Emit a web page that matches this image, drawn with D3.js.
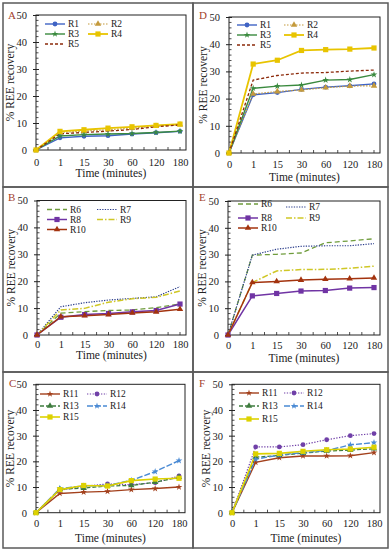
<!DOCTYPE html>
<html>
<head>
<meta charset="utf-8">
<script src="https://cdn.jsdelivr.net/npm/d3@7"></script>
<style>
  body { margin: 0; background: #fff; }
</style>
</head>
<body>
<script>
// time categories (minutes) and y ticks
var times = ["0", "1", "15", "30", "60", "120", "180"];
var yTicks = [0, 10, 20, 30, 40, 50];

// series names per group
var namesA = ["R1", "R2", "R3", "R4", "R5"];
var namesB = ["R6", "R7", "R8", "R9", "R10"];
var namesC = ["R11", "R12", "R13", "R14", "R15"];

// % REE recovery, panel A
var aR1 = [0, 4.5, 5.1, 5.3, 5.9, 6.4, 6.9];
var aR2 = [0, 6.5, 7.0, 7.5, 8.1, 8.8, 9.4];
var aR3 = [0, 5.2, 5.7, 5.9, 6.1, 6.5, 7.0];
var aR4 = [0, 6.9, 7.5, 8.1, 8.6, 9.1, 9.6];
var aR5 = [0, 6.0, 6.5, 7.0, 7.6, 8.6, 9.3];
// panel D
var dR1 = [0, 21.4, 22.2, 23.4, 24.2, 24.7, 25.4];
var dR2 = [0, 21.7, 22.6, 23.2, 24.0, 24.6, 24.7];
var dR3 = [0, 23.8, 24.6, 25.0, 26.8, 27.0, 28.8];
var dR4 = [0, 32.7, 34.1, 37.7, 38.0, 38.2, 38.6];
var dR5 = [0, 26.8, 28.5, 29.4, 29.6, 30.1, 30.5];
// panel B
var bR6 = [0, 8.1, 8.7, 9.1, 9.3, 10.2, 11.5];
var bR7 = [0, 10.5, 12.0, 13.0, 13.6, 14.2, 18.0];
var bR8 = [0, 6.6, 7.6, 8.0, 8.6, 9.1, 11.5];
var bR9 = [0, 9.3, 9.9, 12.2, 13.5, 14.0, 16.4];
var bR10 = [0, 6.8, 7.2, 7.6, 8.2, 8.6, 9.6];
// panel E
var eR6 = [0, 29.8, 30.1, 30.6, 34.4, 35.1, 35.9];
var eR7 = [0, 29.8, 32.0, 33.1, 33.3, 33.3, 34.1];
var eR8 = [0, 14.6, 15.5, 16.4, 16.6, 17.5, 17.7];
var eR9 = [0, 19.6, 23.9, 24.4, 24.5, 24.9, 25.7];
var eR10 = [0, 19.6, 20.0, 20.5, 20.8, 21.0, 21.3];
// panel C
var cR11 = [0, 7.5, 8.0, 8.3, 9.0, 9.4, 10.0];
var cR12 = [0, 8.7, 10.3, 11.2, 10.9, 11.7, 14.3];
var cR13 = [0, 9.1, 9.6, 10.4, 10.6, 11.9, 13.8];
var cR14 = [0, 9.4, 10.4, 10.6, 12.6, 16.0, 20.3];
var cR15 = [0, 9.0, 10.6, 10.4, 12.5, 13.1, 13.4];
// panel F
var fR11 = [0, 19.6, 21.4, 22.1, 22.1, 22.2, 23.4];
var fR12 = [0, 25.6, 25.6, 26.5, 28.4, 30.0, 30.8];
var fR13 = [0, 21.6, 22.3, 23.2, 24.0, 24.4, 24.9];
var fR14 = [0, 20.8, 22.5, 23.4, 24.2, 26.4, 27.3];
var fR15 = [0, 22.9, 23.1, 23.9, 24.5, 24.8, 25.5];

var FONT = "Liberation Serif";

// line styles
var styles = {
  R1:  {c: "#3f63c4", dash: null, w: 1.4, m: "circle"},
  R2:  {c: "#c49a3c", dash: "1.5,1.5", w: 1.2, m: "triangle"},
  R3:  {c: "#3a8a3e", dash: null, w: 1.4, m: "star"},
  R4:  {c: "#e8c400", dash: null, w: 1.8, m: "square"},
  R5:  {c: "#8c2a0a", dash: "3,2", w: 1.3, m: null},
  R6:  {c: "#6f9c3c", dash: "5,3", w: 1.3, m: null},
  R7:  {c: "#2c3e8c", dash: "1.3,1.3", w: 1.2, m: null},
  R8:  {c: "#7034a4", dash: null, w: 1.5, m: "square"},
  R9:  {c: "#cfc726", dash: "6,2,1.5,2", w: 1.5, m: null},
  R10: {c: "#a3330e", dash: null, w: 1.5, m: "triangle"},
  R11: {c: "#a3401c", dash: null, w: 1.4, m: "star"},
  R12: {c: "#7040a8", dash: "1.3,1.5", w: 1.2, m: "circle"},
  R13: {c: "#3e7c3e", dash: "4,2", w: 1.3, m: "triangle"},
  R14: {c: "#4a8ad4", dash: "6,2", w: 1.4, m: "star"},
  R15: {c: "#ddd200", dash: null, w: 1.6, m: "square"}
};

var panels = [
  {id: "A", names: namesA, data: [aR1, aR2, aR3, aR4, aR5], box: [3, 3, 193, 187],
   x0: 36, x1: 180, yb: 150, yt: 15, tickY: 167, titleY: 177,
   leg: {x1: 45, x2: 88, rows: [24, 34, 44]}, letter: [8, 19]},
  {id: "D", names: namesA, data: [dR1, dR2, dR3, dR4, dR5], box: [193, 3, 388, 187],
   x0: 229, x1: 374, yb: 153, yt: 17, tickY: 169, titleY: 181,
   leg: {x1: 237, x2: 284, rows: [25, 35, 45]}, letter: [199, 19]},
  {id: "B", names: namesB, data: [bR6, bR7, bR8, bR9, bR10], box: [3, 187, 193, 372],
   x0: 37, x1: 180, yb: 335, yt: 200.5, tickY: 349, titleY: 359,
   leg: {x1: 47, x2: 97, rows: [209.5, 219.5, 229.5]}, letter: [8, 201]},
  {id: "E", names: namesB, data: [eR6, eR7, eR8, eR9, eR10], box: [193, 187, 388, 372],
   x0: 228, x1: 374, yb: 335, yt: 201, tickY: 350, titleY: 362,
   leg: {x1: 238, x2: 286, rows: [204, 218, 228], row1b: 207}, letter: [199, 201]},
  {id: "C", names: namesC, data: [cR11, cR12, cR13, cR14, cR15], box: [3, 372, 193, 548],
   x0: 36, x1: 179, yb: 512.7, yt: 384.3, tickY: 528, titleY: 542,
   leg: {x1: 40, x2: 87, rows: [394, 406, 417]}, letter: [9, 387]},
  {id: "F", names: namesC, data: [fR11, fR12, fR13, fR14, fR15], box: [193, 372, 388, 548],
   x0: 232, x1: 374, yb: 512.7, yt: 384.3, tickY: 528, titleY: 542,
   leg: {x1: 239, x2: 284, rows: [393, 406, 419]}, letter: [199, 387]}
];

var svg = d3.select("body").append("svg")
  .attr("width", 392).attr("height", 550);

function marker(g, name, x, y) {
  var s = styles[name];
  if (!s.m) return;
  if (s.m == "circle") {
    g.append("circle").attr("cx", x).attr("cy", y).attr("r", 2.4).attr("fill", s.c);
  } else if (s.m == "square") {
    g.append("rect").attr("x", x - 2.6).attr("y", y - 2.6).attr("width", 5.2).attr("height", 5.2).attr("fill", s.c);
  } else if (s.m == "triangle") {
    g.append("path").attr("d", d3.symbol().type(d3.symbolTriangle).size(18)())
      .attr("transform", "translate(" + x + "," + y + ")").attr("fill", s.c);
  } else {
    g.append("path").attr("d", d3.symbol().type(d3.symbolStar).size(14)())
      .attr("transform", "translate(" + x + "," + y + ")").attr("fill", s.c);
  }
}

panels.forEach(function(p) {
  var g = svg.append("g");
  // panel border
  g.append("rect").attr("x", p.box[0]).attr("y", p.box[1])
    .attr("width", p.box[2] - p.box[0]).attr("height", p.box[3] - p.box[1])
    .attr("fill", "none").attr("stroke", "#5a5a5a").attr("stroke-width", 1.5);

  var x = d3.scalePoint().domain(times).range([p.x0, p.x1]);
  var y = d3.scaleLinear().domain([0, 50]).range([p.yb, p.yt]);
  var step = x.step();

  // plot frame
  g.append("rect").attr("x", p.x0).attr("y", p.yt)
    .attr("width", p.x1 + 6 - p.x0).attr("height", p.yb - p.yt)
    .attr("fill", "none").attr("stroke", "#222").attr("stroke-width", 1);

  // y axis
  var yAxis = d3.axisLeft(y).tickValues(yTicks).tickSize(3).tickPadding(6);
  var ya = g.append("g").attr("transform", "translate(" + p.x0 + ",0)").call(yAxis);
  ya.select(".domain").remove();
  ya.selectAll(".tick line").attr("x2", 3).attr("x1", -3).attr("stroke", "#222");
  ya.selectAll("text").attr("font-size", 10.5).attr("fill", "#222")
    .style("font-family", FONT);
  // minor y ticks
  g.selectAll(".minY").data(d3.range(2, 50, 2).filter(function(v) { return v % 10 != 0; }))
    .enter().append("line")
    .attr("x1", p.x0).attr("x2", p.x0 + 2.5)
    .attr("y1", function(d) { return y(d); }).attr("y2", function(d) { return y(d); })
    .attr("stroke", "#222").attr("stroke-width", 0.8);

  // x axis
  var xAxis = d3.axisBottom(x).tickSize(0).tickPadding(p.tickY - p.yb - 8);
  var xa = g.append("g").attr("transform", "translate(0," + p.yb + ")").call(xAxis);
  xa.select(".domain").remove();
  xa.selectAll("text").attr("font-size", 10.5).attr("fill", "#222")
    .style("font-family", FONT);
  // x ticks every half category
  g.selectAll(".tx").data(d3.range(0, times.length * 2 - 1))
    .enter().append("line")
    .attr("x1", function(d) { return p.x0 + d * step / 2; })
    .attr("x2", function(d) { return p.x0 + d * step / 2; })
    .attr("y1", p.yb).attr("y2", p.yb - 3)
    .attr("stroke", "#222").attr("stroke-width", 0.8);

  // axis titles
  g.append("text").attr("x", (p.x0 + p.x1 + 6) / 2).attr("y", p.titleY)
    .attr("text-anchor", "middle").attr("font-size", 11.5).attr("fill", "#222")
    .style("font-family", FONT)
    .text("Time (minutes)");
  g.append("text")
    .attr("transform", "translate(" + (p.x0 - 22) + "," + ((p.yb + p.yt) / 2) + ") rotate(-90)")
    .attr("text-anchor", "middle").attr("font-size", 11.5).attr("fill", "#222")
    .style("font-family", FONT)
    .text("% REE recovery");

  // panel letter
  g.append("text").attr("x", p.letter[0]).attr("y", p.letter[1])
    .attr("font-size", 11).attr("fill", "#a3412c").style("font-family", FONT).text(p.id);

  // series
  var line = d3.line()
    .x(function(d, i) { return x(times[i]); })
    .y(function(d) { return y(d); });
  p.names.forEach(function(name, k) {
    var s = styles[name];
    g.append("path").attr("d", line(p.data[k]))
      .attr("fill", "none").attr("stroke", s.c).attr("stroke-width", s.w)
      .attr("stroke-dasharray", s.dash);
  });
  p.names.forEach(function(name, k) {
    p.data[k].forEach(function(v, i) { marker(g, name, x(times[i]), y(v)); });
  });

  // legend
  p.names.forEach(function(name, k) {
    var s = styles[name];
    var col = k % 2, row = Math.floor(k / 2);
    var lx = col == 0 ? p.leg.x1 : p.leg.x2;
    var ly = p.leg.rows[row];
    if (k == 1 && p.leg.row1b) ly = p.leg.row1b;
    g.append("line").attr("x1", lx).attr("x2", lx + 20).attr("y1", ly).attr("y2", ly)
      .attr("stroke", s.c).attr("stroke-width", s.w).attr("stroke-dasharray", s.dash);
    marker(g, name, lx + 10, ly);
    g.append("text").attr("x", lx + 23).attr("y", ly + 3.3)
      .attr("font-size", 9.5).attr("fill", "#222").style("font-family", FONT).text(name);
  });
});
</script>
</body>
</html>
